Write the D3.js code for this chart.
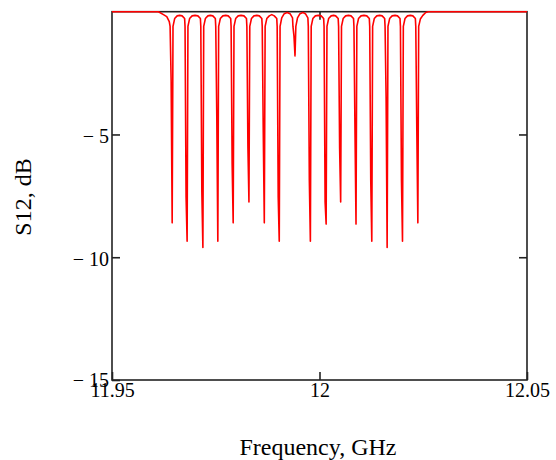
<!DOCTYPE html>
<html>
<head>
<meta charset="utf-8">
<script src="https://cdn.jsdelivr.net/npm/d3@7"></script>
<style>
body { margin: 0; background: #fff; }
text { font-family: "Liberation Serif", "Times New Roman", serif; fill: #000; }
</style>
</head>
<body>
<script>
// S12 trace, [GHz, dB]
var s12Trace = [
  [11.9500, 0], [11.9612, 0], [11.9624, -0.12], [11.9632, -0.2], [11.9638, -0.4],
  [11.9640, -0.6], [11.96425, -2.8], [11.9645, -8.6], [11.9647, -0.6],
  [11.9651, -0.28], [11.9657, -0.17], [11.9663, -0.15], [11.9669, -0.17], [11.9675, -0.28],
  [11.9676, -0.6], [11.96785, -7.55], [11.9681, -9.35], [11.9683, -0.6],
  [11.9687, -0.28], [11.9693, -0.17], [11.9700, -0.15], [11.9707, -0.17], [11.9713, -0.28],
  [11.9714, -0.6], [11.97165, -7.35], [11.9719, -9.6], [11.9721, -0.6],
  [11.9725, -0.28], [11.9731, -0.17], [11.9737, -0.15], [11.9743, -0.17], [11.9749, -0.28],
  [11.9750, -0.6], [11.97525, -4.25], [11.9755, -9.35], [11.9757, -0.6],
  [11.9761, -0.28], [11.9767, -0.17], [11.9774, -0.15], [11.9780, -0.17], [11.9786, -0.28],
  [11.9787, -0.6], [11.97895, -6.2], [11.9792, -8.6], [11.9794, -0.6],
  [11.9798, -0.28], [11.9804, -0.17], [11.9811, -0.15], [11.9818, -0.17], [11.9824, -0.28],
  [11.9825, -0.6], [11.98275, -5.5], [11.9830, -7.75], [11.9832, -0.6],
  [11.9836, -0.28], [11.9842, -0.17], [11.9849, -0.15], [11.9855, -0.17], [11.9861, -0.28],
  [11.9862, -0.6], [11.98645, -4.9], [11.9867, -8.6], [11.9869, -0.6],
  [11.9873, -0.28], [11.9879, -0.17], [11.9885, -0.12], [11.9891, -0.17], [11.9897, -0.28],
  [11.9898, -0.6], [11.99005, -7.55], [11.9903, -9.35], [11.9905, -0.6],
  [11.9909, -0.25], [11.9915, -0.08], [11.9922, -0.03], [11.9929, -0.08], [11.9935, -0.25],
  [11.9936, -0.6], [11.99385, -1.0], [11.9941, -1.8], [11.9943, -0.6],
  [11.9947, -0.25], [11.9953, -0.08], [11.9960, -0.03], [11.9966, -0.08], [11.9972, -0.25],
  [11.9973, -0.6], [11.99755, -6.85], [11.9978, -9.35], [11.9980, -0.6],
  [11.9984, -0.28], [11.9990, -0.17], [11.9997, -0.15], [12.0004, -0.17], [12.0010, -0.28],
  [12.0011, -0.6], [12.00135, -7.75], [12.0016, -8.65], [12.0018, -0.6],
  [12.0022, -0.28], [12.0028, -0.17], [12.0034, -0.15], [12.0039, -0.17], [12.0045, -0.28],
  [12.0046, -0.6], [12.00485, -5.55], [12.0051, -7.75], [12.0053, -0.6],
  [12.0057, -0.28], [12.0063, -0.17], [12.0070, -0.15], [12.0076, -0.17], [12.0082, -0.28],
  [12.0083, -0.6], [12.00855, -4.85], [12.0088, -8.65], [12.0090, -0.6],
  [12.0094, -0.28], [12.0100, -0.17], [12.0107, -0.15], [12.0114, -0.17], [12.0120, -0.28],
  [12.0121, -0.6], [12.01235, -6.85], [12.0126, -9.35], [12.0128, -0.6],
  [12.0132, -0.28], [12.0138, -0.17], [12.0145, -0.15], [12.0151, -0.17], [12.0157, -0.28],
  [12.0158, -0.6], [12.01605, -3.5], [12.0163, -9.6], [12.0165, -0.6],
  [12.0169, -0.28], [12.0175, -0.17], [12.0182, -0.15], [12.0188, -0.17], [12.0194, -0.28],
  [12.0195, -0.6], [12.01975, -6.85], [12.0200, -9.35], [12.0202, -0.6],
  [12.0206, -0.28], [12.0212, -0.17], [12.0219, -0.15], [12.0225, -0.17], [12.0231, -0.28],
  [12.0232, -0.6], [12.02345, -4.85], [12.0237, -8.6], [12.0239, -0.6],
  [12.0243, -0.3], [12.0249, -0.15], [12.0256, -0.03], [12.0262, 0], [12.0500, 0]
];

var xTicks = [11.95, 12, 12.05];
var xTickLabels = ["11.95", "12", "12.05"];
var yTicks = [-5, -10, -15];
var yTickLabels = ["\u2212 5", "\u2212 10", "\u2212 15"];

visS12Chart(s12Trace);

function visS12Chart(data) {
  var svg_width = 556;
  var svg_height = 460;
  var svg = d3.select("body").append("svg").attr("width", svg_width).attr("height", svg_height);
  var margin = {top: 11.7, right: 29, bottom: 80, left: 112},
      width = svg_width - margin.left - margin.right,
      height = svg_height - margin.top - margin.bottom;

  var g = svg.append("g").attr("transform", "translate(" + margin.left + "," + margin.top + ")");

  var x = d3.scaleLinear().domain([11.95, 12.05]).range([0, width]);
  var y = d3.scaleLinear().domain([-15, 0]).range([height, 0]);

  // frame
  g.append("rect")
    .attr("x", 0).attr("y", 0)
    .attr("width", width).attr("height", height)
    .attr("fill", "none")
    .attr("stroke", "#222")
    .attr("stroke-width", 1.6);

  var yLeft = g.append("g")
    .call(d3.axisLeft(y).tickValues(yTicks).tickSize(-8).tickPadding(3)
      .tickFormat(function(d, i) { return yTickLabels[i]; }));
  var yRight = g.append("g")
    .attr("transform", "translate(" + width + ",0)")
    .call(d3.axisRight(y).tickValues([-5, -10]).tickSize(-8).tickFormat(""));
  var xBottom = g.append("g")
    .attr("transform", "translate(0," + height + ")")
    .call(d3.axisBottom(x).tickValues(xTicks).tickSize(-8).tickPadding(3)
      .tickFormat(function(d, i) { return xTickLabels[i]; }));
  var xTop = g.append("g")
    .call(d3.axisTop(x).tickValues([12]).tickSize(-8).tickFormat(""));

  [yLeft, yRight, xBottom, xTop].forEach(function(a) {
    a.select(".domain").remove();
    a.selectAll("line").attr("stroke", "#222").attr("stroke-width", 1.6);
    a.selectAll("text").style("font-family", "Liberation Serif").style("font-size", "20px").attr("fill", "#000");
  });
  yLeft.selectAll("text").attr("dy", function(d) { return d === -15 ? "0.3em" : "0.42em"; });
  xBottom.selectAll("text").attr("dy", "0.72em");

  var line = d3.line()
    .x(function(d) { return x(d[0]); })
    .y(function(d) { return y(d[1]); });

  g.append("path")
    .datum(data)
    .attr("fill", "none")
    .attr("stroke", "#ff0000")
    .attr("stroke-width", 1.6)
    .attr("stroke-linejoin", "round")
    .attr("d", line);

  svg.append("text")
    .attr("transform", "translate(31," + 197 + ") rotate(-90)")
    .attr("text-anchor", "middle")
    .style("font-size", "24px")
    .text("S12, dB");

  svg.append("text")
    .attr("x", 318)
    .attr("y", 455)
    .attr("text-anchor", "middle")
    .style("font-size", "24px")
    .text("Frequency, GHz");
}
</script>
</body>
</html>
